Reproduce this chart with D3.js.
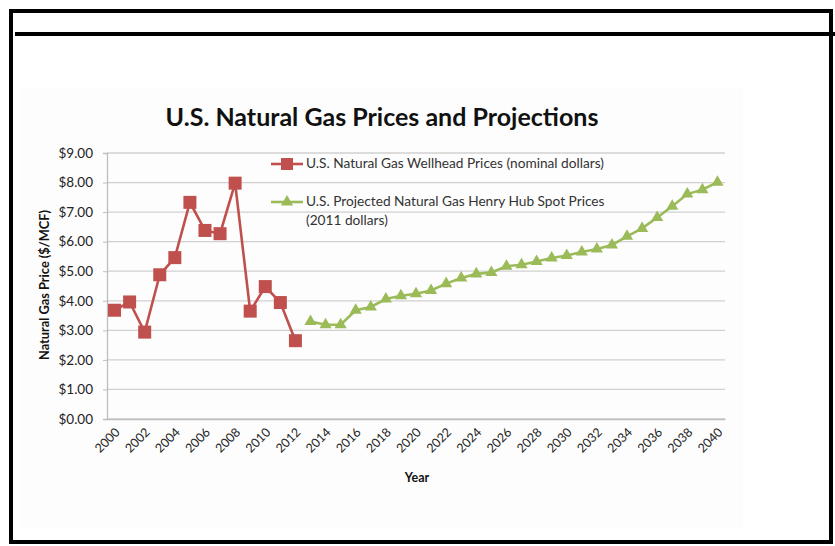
<!DOCTYPE html>
<html>
<head>
<meta charset="utf-8">
<script src="https://cdn.jsdelivr.net/npm/d3@7"></script>
<style>
  body { margin: 0; background: #fff; }
  text { font-family: Lato, "Open Sans", sans-serif; }
</style>
</head>
<body>
<svg id="chart" width="835" height="546"></svg>
<script>
const years = d3.range(2000, 2041);
const wellheadYears = d3.range(2000, 2013);
const wellheadPrices = [3.68, 3.96, 2.94, 4.88, 5.46, 7.33, 6.38, 6.27, 7.98, 3.65, 4.48, 3.94, 2.65];
const henryYears = d3.range(2013, 2041);
const henryPrices = [3.30, 3.19, 3.19, 3.68, 3.79, 4.06, 4.17, 4.24, 4.35, 4.58, 4.77, 4.91, 4.96, 5.17,
  5.22, 5.33, 5.45, 5.53, 5.65, 5.75, 5.89, 6.18, 6.45, 6.82, 7.20, 7.61, 7.76, 8.01];
const yTicks = [0, 1, 2, 3, 4, 5, 6, 7, 8, 9];
const xTickLabels = years.filter(y => y % 2 === 0);
const legendLabels = [
  ['U.S. Natural Gas Wellhead Prices (nominal dollars)'],
  ['U.S. Projected Natural Gas Henry Hub Spot Prices', '(2011 dollars)']
];

const svg = d3.select('#chart');
const red = '#c0504d';
const green = '#9bbb59';

// frame like the scanned page
svg.append('rect').attr('x', 20).attr('y', 88).attr('width', 723).attr('height', 440).attr('fill', '#fdfdfd');
svg.append('rect').attr('x', 11).attr('y', 11).attr('width', 820).attr('height', 531)
  .attr('fill', 'none').attr('stroke', '#000').attr('stroke-width', 4);
svg.append('line').attr('x1', 15).attr('x2', 835).attr('y1', 34).attr('y2', 34)
  .attr('stroke', '#000').attr('stroke-width', 4);

const x = d3.scaleBand().domain(years).range([107, 725]);
const y = d3.scaleLinear().domain([0, 9]).range([419, 153]);
const cx = d => x(d) + x.bandwidth() / 2;

// gridlines
svg.append('g').selectAll('line').data(yTicks).enter().append('line')
  .attr('x1', 107).attr('x2', 725)
  .attr('y1', d => y(d)).attr('y2', d => y(d))
  .attr('stroke', '#d0d0d0').attr('stroke-width', 1.3);

// y axis
const yAxis = svg.append('g').attr('transform', 'translate(107,0)')
  .call(d3.axisLeft(y).tickValues(yTicks).tickSize(4).tickPadding(10).tickFormat(d => '$' + d.toFixed(2)));
yAxis.select('.domain').attr('stroke', '#bdbdbd').attr('stroke-width', 1.3);
yAxis.selectAll('.tick line').attr('stroke', '#bdbdbd');
yAxis.selectAll('text').attr('font-size', 13.5).attr('fill', '#222').style('font-family', 'Lato, sans-serif');

// x axis
const xAxis = svg.append('g').attr('transform', 'translate(0,419)')
  .call(d3.axisBottom(x).tickValues(xTickLabels).tickSize(0).tickPadding(0));
xAxis.select('.domain').attr('stroke', '#bdbdbd').attr('stroke-width', 1.3);
xAxis.selectAll('text')
  .attr('font-size', 12.5).attr('fill', '#222').style('font-family', 'Lato, sans-serif')
  .attr('text-anchor', 'end').attr('dy', 0)
  .attr('transform', 'translate(6,14) rotate(-45)');

// series lines
const line = d3.line().x(d => cx(d[0])).y(d => y(d[1]));
const wellhead = wellheadYears.map((yr, i) => [yr, wellheadPrices[i]]);
const henry = henryYears.map((yr, i) => [yr, henryPrices[i]]);

svg.append('path').datum(wellhead).attr('d', line)
  .attr('fill', 'none').attr('stroke', red).attr('stroke-width', 2.6);
svg.append('g').selectAll('rect').data(wellhead).enter().append('rect')
  .attr('x', d => cx(d[0]) - 6.5).attr('y', d => y(d[1]) - 6.5)
  .attr('width', 13).attr('height', 13).attr('fill', red);

svg.append('path').datum(henry).attr('d', line)
  .attr('fill', 'none').attr('stroke', green).attr('stroke-width', 2.6);
const tri = d3.symbol().type(d3.symbolTriangle).size(64);
svg.append('g').selectAll('path').data(henry).enter().append('path')
  .attr('d', tri).attr('transform', d => `translate(${cx(d[0])},${y(d[1])})`).attr('fill', green);

// legend
const leg = svg.append('g');
leg.append('line').attr('x1', 271).attr('x2', 303).attr('y1', 164).attr('y2', 164)
  .attr('stroke', red).attr('stroke-width', 2.6);
leg.append('rect').attr('x', 281).attr('y', 158).attr('width', 12).attr('height', 12).attr('fill', red);
leg.append('line').attr('x1', 271).attr('x2', 303).attr('y1', 202).attr('y2', 202)
  .attr('stroke', green).attr('stroke-width', 2.6);
leg.append('path').attr('d', tri).attr('transform', 'translate(287,202)').attr('fill', green);
legendLabels.forEach((lines, i) => {
  lines.forEach((t, j) => {
    leg.append('text').attr('x', 306).attr('y', (i === 0 ? 168 : 206) + j * 19)
      .attr('font-size', 13.7).attr('fill', '#333').text(t);
  });
});

// titles
svg.append('text').attr('x', 382).attr('y', 126).attr('text-anchor', 'middle')
  .attr('font-size', 25).attr('font-weight', 'bold').attr('fill', '#111')
  .text('U.S. Natural Gas Prices and Projections');
svg.append('text').attr('transform', 'translate(49,285) rotate(-90)').attr('text-anchor', 'middle')
  .attr('font-size', 12.8).attr('font-weight', 'bold').attr('fill', '#111')
  .text('Natural Gas Price ($/MCF)');
svg.append('text').attr('x', 417).attr('y', 482).attr('text-anchor', 'middle')
  .attr('font-size', 12.5).attr('font-weight', 'bold').attr('fill', '#111')
  .text('Year');
</script>
</body>
</html>
